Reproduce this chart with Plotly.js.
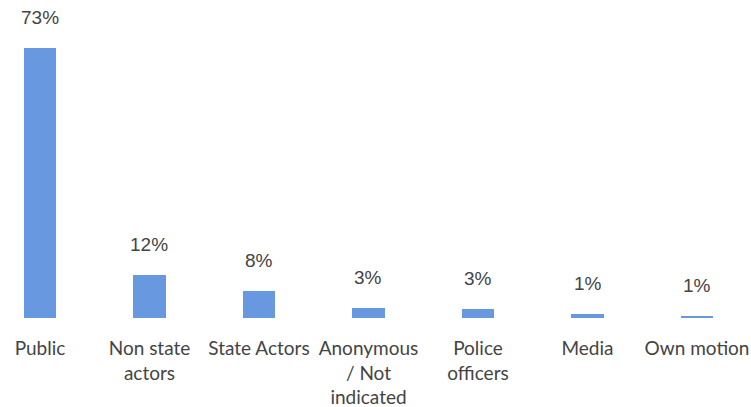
<!DOCTYPE html>
<html>
<head>
<meta charset="utf-8">
<script src="https://cdn.plot.ly/plotly-3.0.1.min.js"></script>
<style>
  html, body { margin: 0; padding: 0; background: #fff; }
  #chart { width: 751px; height: 407px; }
</style>
</head>
<body>
<div id="chart"></div>
<script>
// Source of complaints, share of total (bar heights)
const categories = ['Public', 'Non state<br>actors', 'State Actors', 'Anonymous<br>/ Not<br>indicated',
  'Police<br>officers', 'Media', 'Own motion'];
const shares = [73, 11.6, 7.3, 2.8, 2.5, 1.0, 0.5];
const shareLabels = ['73%', '12%', '8%', '3%', '3%', '1%', '1%'];

const BAR_COLOR = '#6898e0';
const TEXT_COLOR = '#444444';

const trace = {
  type: 'bar',
  x: categories,
  y: shares,
  width: 0.3,
  marker: { color: BAR_COLOR },
  hoverinfo: 'skip',
};

// Value labels float well above each bar, so use annotations rather than textposition
const annotations = categories.map((c, i) => ({
  x: c,
  y: shares[i],
  text: shareLabels[i],
  showarrow: false,
  yanchor: 'bottom',
  yshift: 18,
  font: { family: 'Arial, Liberation Sans, sans-serif', size: 19, color: TEXT_COLOR },
}));

const layout = {
  width: 751,
  height: 407,
  margin: { l: 0, r: 0, t: 0, b: 89 },
  paper_bgcolor: '#fff',
  plot_bgcolor: '#fff',
  showlegend: false,
  bargap: 0,
  xaxis: {
    type: 'category',
    range: [-0.365, 6.493],
    showgrid: false,
    zeroline: false,
    showline: false,
    ticks: '',
    ticklabelstandoff: 17,
    tickfont: { family: 'Lato, Open Sans, sans-serif', size: 19, color: TEXT_COLOR },
  },
  yaxis: {
    range: [0, 86],
    visible: false,
  },
  annotations,
};

Plotly.newPlot('chart', [trace], layout, { staticPlot: true });
</script>
</body>
</html>
